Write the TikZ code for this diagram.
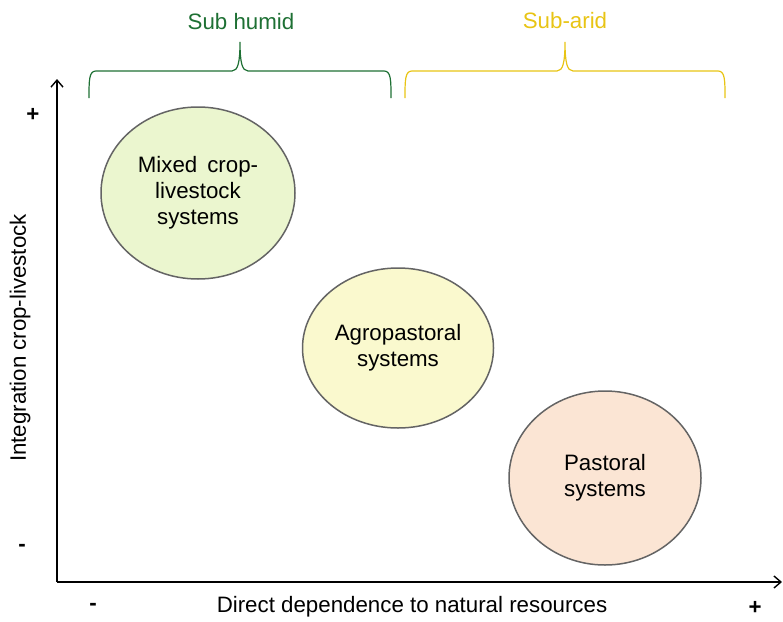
\documentclass[tikz,border=0pt]{standalone}
\usepackage{fontspec}
\setmainfont{Liberation Sans}
\usetikzlibrary{shapes.geometric,arrows.meta}
\definecolor{humidgreen}{RGB}{30,112,52}
\definecolor{aridyellow}{RGB}{232,196,20}
\definecolor{fillgreen}{RGB}{235,246,207}
\definecolor{fillyellow}{RGB}{250,249,206}
\definecolor{fillpeach}{RGB}{251,229,212}
\definecolor{rimgray}{RGB}{100,100,100}
\tikzset{
  txt/.style={font=\fontsize{22.3}{26}\selectfont, inner sep=0pt},
  signtxt/.style={font=\fontsize{22.3}{26}\selectfont\bfseries, inner sep=0pt},
  sysbox/.style={ellipse, draw=rimgray, line width=1.5pt, inner sep=0pt, align=center, txt},
  axisline/.style={line width=1.6pt, -{Straight Barb[length=7pt,width=12pt,line width=1.4pt]}},
  bracepath/.style={line width=1.2pt}
}
\begin{document}
\begin{tikzpicture}[x=1pt,y=-1pt]
\useasboundingbox (0,0) rectangle (783,621);
% axes
\coordinate (O) at (57,582);
\coordinate (Ytip) at (57,79);
\coordinate (Xtip) at (782,582);
\draw[axisline] (O) -- (Ytip);
\draw[axisline] (O) -- (Xtip);
% axis labels
\node[txt] (xlab) at (412,607) {Direct dependence to natural resources};
\node[txt, rotate=90] (ylab) at (20,338) {Integration crop-livestock};
\node[signtxt] (yplus) at (33,115) {+};
\node[signtxt] (yminus) at (22,548) {-};
\node[signtxt] (xminus) at (93,607) {-};
\node[signtxt] (xplus) at (755,608) {+};
% systems
\node[sysbox, fill=fillgreen, minimum width=194pt, minimum height=172pt] (mixed) at (198,193) {Mixed\hspace{0.45em}crop-\\livestock\\systems};
\node[sysbox, fill=fillyellow, minimum width=191pt, minimum height=160pt] (agro) at (398,348) {Agropastoral\\systems};
\node[sysbox, fill=fillpeach, minimum width=192pt, minimum height=174pt] (past) at (605,478) {Pastoral\\systems};
% braces
\draw[bracepath, humidgreen] (89,98) .. controls (89,80) and (89,71) .. (96,71) -- (232,71)
  .. controls (238,71) and (240,62) .. (240,42)
  .. controls (240,62) and (242,71) .. (248,71) -- (384,71)
  .. controls (391,71) and (391,80) .. (391,98);
\draw[bracepath, aridyellow] (405,98) .. controls (405,80) and (405,71) .. (412,71) -- (557,71)
  .. controls (563,71) and (565,62) .. (565,42)
  .. controls (565,62) and (567,71) .. (573,71) -- (718,71)
  .. controls (725,71) and (725,80) .. (725,98);
\node[txt, text=humidgreen] (humid) at (241,22) {Sub humid};
\node[txt, text=aridyellow] (arid) at (565,21) {Sub-arid};
\end{tikzpicture}
\end{document}
